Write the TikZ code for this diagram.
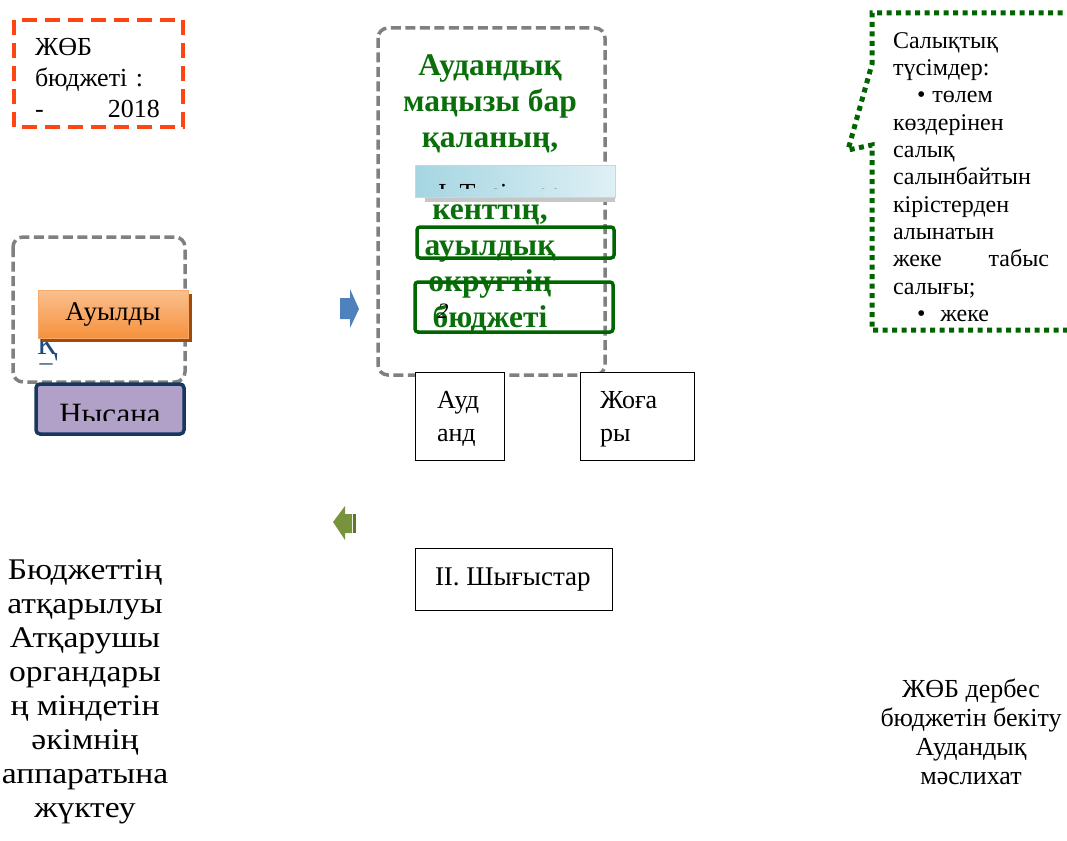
\documentclass[tikz,border=0pt]{standalone}
\usepackage{fontspec}
\setmainfont{Liberation Serif}
\newfontfamily\widefont[FakeStretch=1.12]{Liberation Serif}
\definecolor{redorange}{RGB}{255,69,20}
\definecolor{calloutgreen}{RGB}{0,100,0}
\definecolor{framegreen}{RGB}{0,102,0}
\definecolor{textgreen}{RGB}{10,110,10}
\definecolor{arrowblue}{RGB}{79,129,189}
\definecolor{arrowgreen}{RGB}{119,147,60}
\definecolor{arrowbar}{RGB}{94,118,44}
\definecolor{orangetop}{RGB}{250,192,143}
\definecolor{orangebot}{RGB}{245,145,60}
\definecolor{orangeshadow}{RGB}{160,75,10}
\definecolor{orangeline}{RGB}{248,170,110}
\definecolor{lilac}{RGB}{177,160,199}
\definecolor{framenavy}{RGB}{23,55,94}
\definecolor{qblue}{RGB}{31,73,125}
\definecolor{barleft}{RGB}{165,213,226}
\definecolor{barright}{RGB}{222,240,245}
\definecolor{barline}{RGB}{183,222,232}
\begin{document}
\begin{tikzpicture}[x=1pt,y=-1pt,
  every node/.style={inner sep=0pt,outer sep=0pt},
  txt/.style={font=\fontsize{26}{31}\selectfont},
  greybox/.style={draw=gray,line width=3.5pt,dash pattern=on 10pt off 4.5pt,rounded corners=10pt},
  redbox/.style={draw=redorange,line width=4pt,dash pattern=on 15pt off 8pt},
  callout/.style={draw=calloutgreen,line width=5pt,dash pattern=on 5pt off 4.5pt},
  whitebox/.style={draw=black,line width=1pt,fill=white,anchor=north west},
  greenframe/.style={draw=framegreen,line width=3.5pt,rounded corners=3pt,anchor=north west}]
\def\picwidth{1067}
\def\picheight{840}
\useasboundingbox (0,0) rectangle (\picwidth,\picheight);

% top left
\draw[redbox] (14,20) rectangle (183,127);
\node[txt,align=left,text width=125pt,anchor=north west] (budgetyear) at (35,38.5) {ЖӨБ\\бюджеті :\\-\hfill 2018};

% left group
\draw[greybox] (13,237) rectangle (185,382);
\node[font=\fontsize{30}{34}\selectfont,text=qblue,anchor=base west] (qfrag) at (37,354) {Қ};
\node[txt,text=qblue] (dashfrag) at (46,367) {–};
\fill[orangeshadow] (42,294) rectangle (192,342);
\node[draw=orangeline,line width=1pt,top color=orangetop,bottom color=orangebot,
  minimum width=150pt,minimum height=48pt,anchor=north west,
  font=\fontsize{27}{30}\selectfont] (village) at (38,290) {Ауылды};
\node[draw=framenavy,line width=3.5pt,fill=lilac,rounded corners=4pt,
  minimum width=148pt,minimum height=50pt,anchor=north west] (target) at (36,384) {};
\begin{scope}
\clip (38,386) rectangle (183,420);
\node[font=\fontsize{31}{34}\selectfont,anchor=base] (targettext) at (110,424) {Нысана};
\end{scope}

% arrows
\fill[arrowblue] (340,298) -- (350,298) -- (350,289) -- (359,309) -- (350,328) -- (350,319) -- (340,319) -- cycle;
\fill[arrowgreen] (333,522) -- (345,506) -- (345,514) -- (352,514) -- (352,533) -- (345,533) -- (345,540) -- cycle;
\fill[arrowbar] (353,514) rectangle (356,533);

% middle group
\draw[greybox] (378,28) rectangle (605,375);
\node[font=\bfseries\fontsize{31.5}{36}\selectfont,text=textgreen,align=center,anchor=north] (citybudget) at (490,55)
  {Аудандық\\маңызы бар\\қаланың,\\[36pt]кенттің,\\ауылдық\\округтің\\бюджеті};
\fill[gray!45] (425,197) rectangle (615,202);
\node[draw=barline,line width=1pt,left color=barleft,right color=barright,
  minimum width=200pt,minimum height=32pt,anchor=north west] (incomebar) at (415,165) {};
\begin{scope}
\clip (416,166) rectangle (614,188);
\node[txt,anchor=base west] (incometext) at (438,201) {I. Түсімдер};
\end{scope}
\node[greenframe,minimum width=197pt,minimum height=31pt] (frameone) at (417,227) {};
\node[greenframe,minimum width=198pt,minimum height=50pt] (frametwo) at (415,282) {};
\node[font=\itshape\fontsize{22}{26}\selectfont,anchor=base] (twofrag) at (443,318) {2};

\node[whitebox,minimum width=89pt,minimum height=88pt] (districtbox) at (415,372) {};
\node[font=\fontsize{26}{33}\selectfont,align=left,anchor=north west] (districttext) at (437,391) {Ауд\\анд};
\node[whitebox,minimum width=114pt,minimum height=88pt] (upperbox) at (580,372) {};
\node[font=\fontsize{26}{33}\selectfont,align=left,anchor=north west] (uppertext) at (600,391) {Жоға\\ры};
\node[whitebox,minimum width=197pt,minimum height=62pt] (spendbox) at (415,548) {};
\node[font=\fontsize{27}{31}\selectfont,anchor=base west] (spendtext) at (435,585) {II. Шығыстар};

% right callout
\draw[callout] (1072,13) -- (872,13) -- (872,64) -- (848,150) -- (872,145) -- (872,330) -- (1072,330);
\begin{scope}
\clip (876,16) rectangle (1067,323);
\node[font=\fontsize{24}{27.3}\selectfont,text width=156pt,align=left,anchor=north west] (taxtext) at (893,32.5)
  {Салықтық\\түсімдер:\\\hspace*{24pt}\textbullet\hspace{7pt}төлем\\көздерінен\\салық\\салынбайтын\\кірістерден\\алынатын\\жеке\hfill табыс\\салығы;\\\hspace*{24pt}\textbullet\hspace{15pt}жеке};
\end{scope}

% bottom texts
\node[font=\widefont\fontsize{30}{34}\selectfont,align=center,anchor=north] (execnote) at (85,560)
  {Бюджеттің\\атқарылуы\\Атқарушы\\органдары\\ң міндетін\\әкімнің\\аппаратына\\жүктеу};
\node[font=\fontsize{26}{29}\selectfont,align=center,anchor=north] (approvenote) at (971,679)
  {ЖӨБ дербес\\бюджетін бекіту\\Аудандық\\мәслихат};
\end{tikzpicture}
\end{document}
